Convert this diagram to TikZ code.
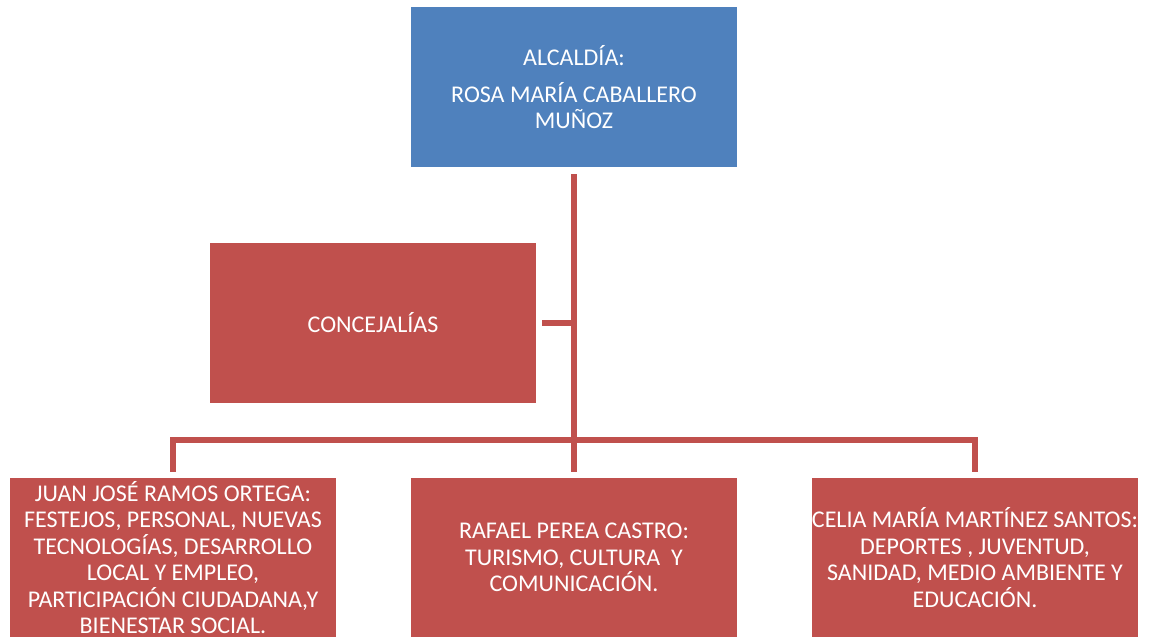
\documentclass[tikz,border=0pt]{standalone}
\usepackage{fontspec}
\setmainfont{Carlito}
\definecolor{boxblue}{HTML}{4F81BD}
\definecolor{boxred}{HTML}{C0504D}
\begin{document}
\begin{tikzpicture}[x=1pt,y=-1pt,
  box/.style={minimum width=326pt, minimum height=160pt, inner sep=0pt,
    align=center, text=white, font=\fontsize{24}{26.4}\selectfont},
  bluebox/.style={box, fill=boxblue},
  redbox/.style={box, fill=boxred},
  lowbox/.style={redbox, minimum height=159pt},
  conn/.style={draw=boxred, line width=5.5pt, miter limit=10}]
\useasboundingbox (0,0) rectangle (1152,637);
\node[bluebox] (top) at (574,87) {ALCALDÍA:\\[10.6pt]ROSA MARÍA CABALLERO\\MUÑOZ};
\node[redbox] (conc) at (373,323) {CONCEJALÍAS};
\node[lowbox] (b1) at (173,557.5) {JUAN JOSÉ RAMOS ORTEGA:\\FESTEJOS, PERSONAL, NUEVAS\\TECNOLOGÍAS, DESARROLLO\\LOCAL Y EMPLEO,\\PARTICIPACIÓN CIUDADANA,Y\\BIENESTAR SOCIAL.};
\node[lowbox] (b2) at (574,557.5) {RAFAEL PEREA CASTRO:\\TURISMO, CULTURA~ Y\\COMUNICACIÓN.};
\node[lowbox] (b3) at (975,557.5) {CELIA MARÍA MARTÍNEZ SANTOS:\\DEPORTES , JUVENTUD,\\SANIDAD, MEDIO AMBIENTE Y\\EDUCACIÓN.};
\coordinate (bus) at (574,440);
\draw[conn] ([yshift=-7pt]top.south) -- ([yshift=6pt]b2.north);
\draw[conn] ([yshift=6pt]b1.north) |- (bus) -| ([yshift=6pt]b3.north);
\draw[conn] ([xshift=6pt]conc.east) -- (conc.east -| bus);
\end{tikzpicture}
\end{document}
